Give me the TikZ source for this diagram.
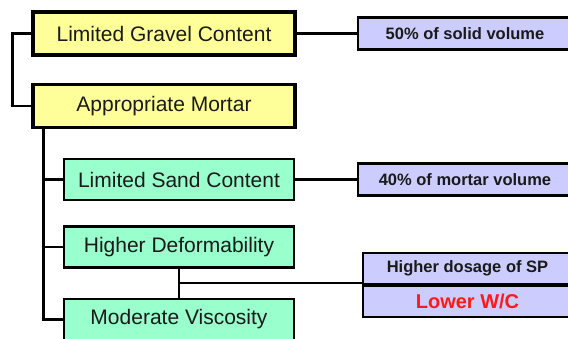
\documentclass[tikz,border=0pt]{standalone}
\usepackage{fontspec}
\setmainfont{Liberation Sans}
\usetikzlibrary{calc,positioning}
\definecolor{gravel}{HTML}{FFFF99}
\definecolor{paste}{HTML}{99FFCC}
\definecolor{target}{HTML}{CCCCFF}
\definecolor{ink}{HTML}{1A1A1A}
\definecolor{alert}{HTML}{FF1A1A}

\begin{document}
\begin{tikzpicture}[
  x=1pt, y=-1pt, line width=2.2pt, ink,
  box/.style={draw=black, rectangle, inner sep=0pt, align=center,
              font=\fontsize{21}{23}\selectfont, text=ink},
  main/.style={box, fill=gravel, line width=3.2pt, minimum width=262pt, minimum height=43pt},
  sub/.style={box, fill=paste, line width=2.6pt, minimum width=230pt, minimum height=41pt},
  goal/.style={box, fill=target, line width=2.2pt, minimum width=214pt, minimum height=32pt,
               font=\fontsize{16.5}{18}\selectfont\bfseries},
  link/.style={draw=black, line width=2.2pt}]
\useasboundingbox (0,0) rectangle (568,338);
% ---------- main requirements
\node[main] (gravel) at (164,33.5) {Limited Gravel Content};
\node[main] (mortar) at (164,106) {Appropriate Mortar};
% ---------- mortar requirements
\node[sub] (sand) at (179,179.5) {Limited Sand Content};
\node[sub] (deform) at (179,247) {Higher Deformability};
\node[sub] (visc) at (179,319.5) {Moderate Viscosity};
% ---------- targets
\node[goal] (solid) at (465,33.5) {50\% of solid volume};
\node[goal] (mvol) at (465,179.5) {40\% of mortar volume};
\node[goal, minimum width=209pt, minimum height=31pt] (sp) at (467.5,268.5) {Higher dosage of SP};
\node[goal, minimum width=209pt, minimum height=31pt, below=0pt of sp,
      font=\fontsize{20}{22}\selectfont\bfseries, text=alert] (wc) {Lower W/C};
% ---------- connectors
\coordinate (trunk) at ($(mortar.south west)+(12,0)$);
\coordinate (join) at ($(deform.south)!0.5!(visc.north)$);
\draw[link] (gravel.west) -- ++(-19,0) |- (mortar.west);
\draw[link] (trunk) |- (visc.west);
\draw[link] (trunk|-sand.west) -- (sand.west);
\draw[link] (trunk|-deform.west) -- (deform.west);
\draw[link] (gravel.east) -- (solid.west);
\draw[link] (sand.east) -- (mvol.west);
\draw[link] (deform.south) -- (visc.north);
\draw[link] (join) -- (join-|sp.south west);
\end{tikzpicture}
\end{document}
